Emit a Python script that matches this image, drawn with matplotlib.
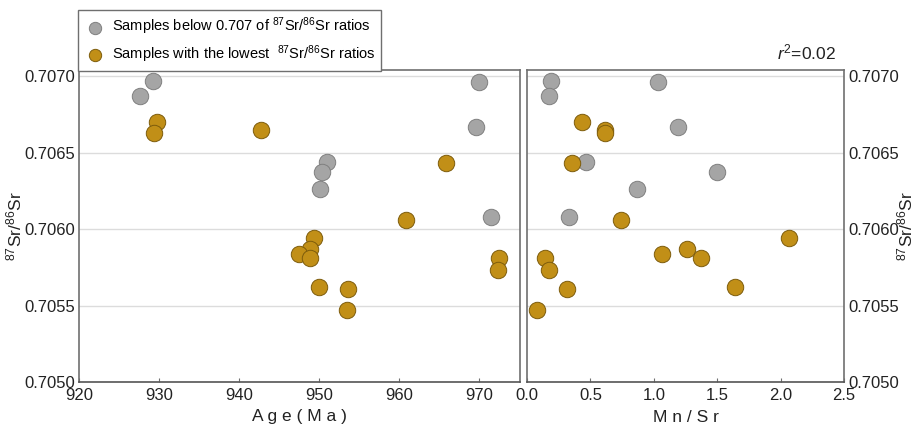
import matplotlib
matplotlib.use("Agg")
import matplotlib.pyplot as plt

plt.rcParams['font.family'] = ['Liberation Sans', 'DejaVu Sans']
plt.rcParams['mathtext.fontset'] = 'custom'
plt.rcParams['mathtext.rm'] = 'Liberation Sans'
plt.rcParams['mathtext.it'] = 'Liberation Sans:italic'

# samples below 0.707 (grey)
sr_grey = [0.70697, 0.70696, 0.70687, 0.70667, 0.70644, 0.70637, 0.70626, 0.70608]
age_grey = [929.2, 970.0, 927.6, 969.6, 951.0, 950.4, 950.1, 971.5]
mnsr_grey = [0.187, 1.031, 0.176, 1.193, 0.463, 1.496, 0.865, 0.334]

# samples with the lowest ratios (gold)
sr_gold = [0.70670, 0.70665, 0.70663, 0.70643, 0.70606, 0.70594, 0.70587,
           0.70584, 0.70581, 0.70581, 0.70573, 0.70562, 0.70561, 0.70547]
age_gold = [929.7, 942.7, 929.4, 965.8, 960.8, 949.4, 948.8,
            947.5, 948.9, 972.5, 972.4, 950.0, 953.6, 953.5]
mnsr_gold = [0.431, 0.615, 0.615, 0.357, 0.744, 2.066, 1.264,
             1.062, 1.370, 0.139, 0.176, 1.638, 0.315, 0.076]

yticks = [0.7050, 0.7055, 0.7060, 0.7065, 0.7070]
grey_c, grey_e = '#a5a5a5', '#7f7f7f'
gold_c, gold_e = '#c18f17', '#7d5c0c'
spine_c = '#6f6f6f'
ms = 140

fig = plt.figure(figsize=(9.19, 4.26), dpi=100)
W, H = 919, 426
ax1 = fig.add_axes([79 / W, 1 - 382 / H, (520 - 79) / W, (382 - 70) / H])
ax2 = fig.add_axes([527 / W, 1 - 382 / H, (844 - 527) / W, (382 - 70) / H])

ylabel = r'$^{87}$Sr/$^{86}$Sr'

for ax in (ax1, ax2):
    ax.set_ylim(0.7050, 0.70704)
    ax.set_yticks(yticks)
    ax.set_yticklabels(['%.4f' % v for v in yticks])
    ax.grid(axis='y', color='#dcdcdc', lw=1.0)
    ax.set_axisbelow(True)
    for s in ax.spines.values():
        s.set_color(spine_c)
        s.set_linewidth(1.2)
    ax.spines['bottom'].set_color('#555555')
    ax.tick_params(axis='x', direction='in', length=3, color=spine_c,
                   labelsize=12, pad=4, labelcolor='#222222')
    ax.tick_params(axis='y', length=0, labelsize=12, pad=3, labelcolor='#222222')

ax1.scatter(age_grey, sr_grey, s=ms, c=grey_c, edgecolors=grey_e, lw=0.7, zorder=3,
            label='Samples below 0.707 of $^{87}$Sr/$^{86}$Sr ratios')
ax1.scatter(age_gold, sr_gold, s=ms, c=gold_c, edgecolors=gold_e, lw=0.7, zorder=3,
            label='Samples with the lowest  $^{87}$Sr/$^{86}$Sr ratios')
ax1.set_xlim(920, 975.1)
ax1.set_xticks([920, 930, 940, 950, 960, 970])
ax1.set_xlabel('A g e ( M a )', fontsize=12.5, labelpad=5, color='#222222')

ax2.scatter(mnsr_grey, sr_grey, s=ms, c=grey_c, edgecolors=grey_e, lw=0.7, zorder=3)
ax2.scatter(mnsr_gold, sr_gold, s=ms, c=gold_c, edgecolors=gold_e, lw=0.7, zorder=3)
ax2.set_xlim(0, 2.5)
ax2.set_xticks([0.0, 0.5, 1.0, 1.5, 2.0, 2.5])
ax2.set_xticklabels(['0.0', '0.5', '1.0', '1.5', '2.0', '2.5'])
ax2.yaxis.tick_right()
ax2.set_xlabel('M n / S r', fontsize=12.5, labelpad=5, color='#222222')
ax2.text(0.975, 1.025, r'$r^2$=0.02', transform=ax2.transAxes, ha='right',
         va='bottom', fontsize=12.5, color='#222222')

# y labels on both outer sides
fig.text(14 / W, 1 - 226 / H, ylabel, rotation=90, ha='center', va='center',
         fontsize=12.5, color='#222222')
fig.text(905 / W, 1 - 226 / H, ylabel, rotation=90, ha='center', va='center',
         fontsize=12.5, color='#222222')

fig.legend(loc='upper left', bbox_to_anchor=(78 / W, 1 - 10 / H), fontsize=10.5,
           frameon=True, fancybox=False, edgecolor=spine_c, framealpha=1,
           handletextpad=0.4, borderpad=0.4, labelspacing=0.4, markerscale=0.75,
           handlelength=1.5, borderaxespad=0)

fig.savefig('out.png', dpi=100)
